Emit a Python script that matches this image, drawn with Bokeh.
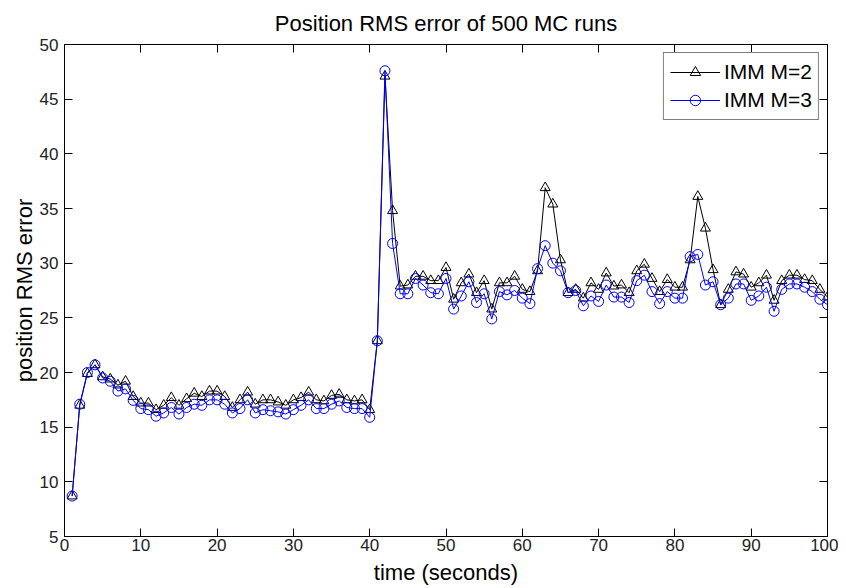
from bokeh.plotting import figure
from bokeh.models import (LinearAxis, Range1d, Legend, LegendItem, FixedTicker,
                          CustomJSTickFormatter)
from bokeh.embed import file_html
from bokeh.resources import INLINE

t = list(range(1, 101))
imm_m2 = [8.7, 17.0, 19.9, 20.7, 19.6, 19.4, 18.85, 19.2, 17.8, 17.2,
          17.2, 16.6, 17.0, 17.7, 17.0, 17.6, 18.1, 17.8, 18.3, 18.3,
          17.8, 16.8, 17.5, 18.2, 17.1, 17.5, 17.5, 17.3, 17.0, 17.5,
          17.7, 18.2, 17.5, 17.4, 17.9, 18.0, 17.5, 17.4, 17.5, 16.6,
          22.9, 47.1, 34.8, 27.9, 28.0, 28.8, 28.8, 28.4, 28.4, 29.6,
          26.7, 28.2, 29.0, 27.3, 28.4, 25.8, 28.2, 28.2, 28.8, 27.6,
          27.4, 29.3, 36.9, 35.4, 30.3, 27.3, 27.6, 26.8, 28.2, 27.6,
          29.1, 27.9, 28.0, 27.3, 29.3, 29.9, 28.6, 27.4, 28.5, 27.8,
          27.8, 30.3, 36.1, 33.2, 29.4, 26.2, 27.6, 29.2, 29.0, 27.8,
          28.2, 28.9, 26.6, 28.4, 28.9, 28.9, 28.5, 28.4, 27.6, 26.9]
imm_m3 = [8.7, 17.1, 20.0, 20.7, 19.5, 19.2, 18.3, 18.5, 17.45, 16.7,
          16.6, 16.0, 16.3, 16.8, 16.2, 16.8, 17.1, 17.0, 17.5, 17.5,
          17.1, 16.3, 16.7, 17.5, 16.3, 16.6, 16.5, 16.4, 16.2, 16.6,
          17.0, 17.5, 16.7, 16.7, 17.1, 17.4, 16.8, 16.7, 16.7, 15.9,
          22.9, 47.6, 31.8, 27.2, 27.2, 28.6, 28.0, 27.3, 27.2, 28.6,
          25.8, 27.0, 28.3, 26.4, 27.2, 24.9, 27.4, 27.1, 27.5, 26.8,
          26.3, 29.5, 31.6, 30.0, 29.3, 27.3, 27.5, 26.1, 27.0, 26.5,
          28.0, 26.9, 26.9, 26.4, 28.4, 28.9, 27.4, 26.3, 27.4, 26.8,
          26.8, 30.6, 30.8, 28.0, 28.3, 26.2, 26.8, 28.1, 28.1, 26.6,
          27.0, 27.8, 25.6, 27.6, 28.1, 28.1, 27.8, 27.4, 26.7, 26.2]
x_ticks = list(range(0, 101, 10))
y_ticks = list(range(5, 51, 5))

FONT = "Liberation Sans"

p = figure(frame_width=763, frame_height=492,
           x_range=Range1d(0, 100), y_range=Range1d(5, 50),
           output_backend="svg", toolbar_location=None,
           title="Position RMS error of 500 MC runs",
           min_border_left=64, min_border_right=11,
           min_border_top=44, min_border_bottom=44,
           background_fill_color="white", border_fill_color="white")

p.title.align = "center"
p.title.text_font = FONT
p.title.text_font_size = "22px"
p.title.text_font_style = "normal"
p.title.text_color = "black"
p.title.standoff = 17

p.xgrid.visible = False
p.ygrid.visible = False
p.outline_line_color = "black"
p.outline_line_width = 1

for ax, ticks in ((p.xaxis[0], x_ticks), (p.yaxis[0], y_ticks)):
    ax.ticker = FixedTicker(ticks=ticks)
    ax.major_tick_in = 8
    ax.major_tick_out = 0
    ax.minor_tick_line_color = None
    ax.axis_line_color = "black"
    ax.major_tick_line_color = "black"
    ax.major_label_text_font = FONT
    ax.major_label_text_font_size = "17px"
    ax.major_label_text_color = "#222222"
    ax.axis_label_text_font = FONT
    ax.axis_label_text_font_size = "22px"
    ax.axis_label_text_font_style = "normal"
    ax.axis_label_text_color = "black"

p.xaxis.axis_label = "time (seconds)"
p.yaxis.axis_label = "position RMS error"
p.xaxis.major_label_standoff = 2
p.yaxis.major_label_standoff = 6
p.xaxis.axis_label_standoff = 6
p.yaxis.axis_label_standoff = 0

blank = CustomJSTickFormatter(code="return ''")
top = LinearAxis(ticker=FixedTicker(ticks=x_ticks), major_tick_in=8, major_tick_out=0,
                 minor_tick_line_color=None, formatter=blank,
                 major_label_standoff=0)
right = LinearAxis(ticker=FixedTicker(ticks=y_ticks), major_tick_in=8, major_tick_out=0,
                   minor_tick_line_color=None, formatter=blank,
                   major_label_standoff=0)
p.add_layout(top, "above")
p.add_layout(right, "right")

l2 = p.line(t, imm_m2, line_color="black", line_width=1)
s2 = p.scatter(t, imm_m2, marker="triangle", size=10, fill_color=None,
               line_color="black", line_width=1)
l3 = p.line(t, imm_m3, line_color="blue", line_width=1)
s3 = p.scatter(t, imm_m3, marker="circle", size=10, fill_color=None,
               line_color="blue", line_width=1)

legend = Legend(items=[LegendItem(label="IMM M=2", renderers=[l2, s2]),
                       LegendItem(label="IMM M=3", renderers=[l3, s3])],
                location="top_right", margin=8, padding=6, spacing=2,
                glyph_width=50, glyph_height=26, label_height=26,
                label_standoff=4,
                label_text_font=FONT, label_text_font_size="21px",
                label_text_color="black",
                border_line_color="black", border_line_width=1,
                background_fill_color="white", background_fill_alpha=1)
p.add_layout(legend)

open("out.html", "w").write(file_html(p, INLINE))
